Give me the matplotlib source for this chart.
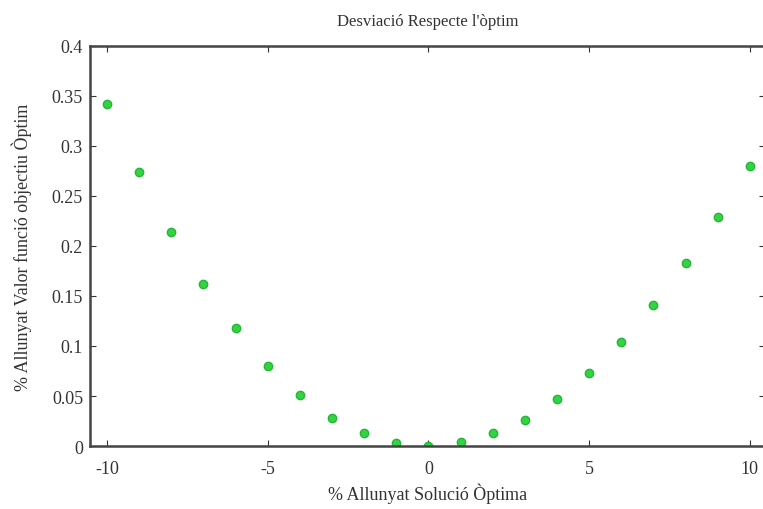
import matplotlib
matplotlib.use('Agg')
import matplotlib.pyplot as plt
from matplotlib.ticker import FormatStrFormatter

# Dades
desviacio = [-10, -9, -8, -7, -6, -5, -4, -3, -2, -1, 0, 1, 2, 3, 4, 5, 6, 7, 8, 9, 10]
valor_obj = [0.342, 0.274, 0.214, 0.162, 0.118, 0.080, 0.051, 0.028, 0.013, 0.003, 0.0,
             0.004, 0.013, 0.026, 0.047, 0.073, 0.104, 0.141, 0.183, 0.229, 0.280]
xticks = [-10, -5, 0, 5, 10]
yticks = [0, 0.05, 0.1, 0.15, 0.2, 0.25, 0.3, 0.35, 0.4]

plt.rcParams['font.family'] = ['Liberation Serif', 'DejaVu Serif']
plt.rcParams['axes.unicode_minus'] = False

fig = plt.figure(figsize=(7.63, 5.10), dpi=100)
ax = fig.add_axes([0.118, 0.1235, 0.885, 0.7845])

ax.plot(desviacio, valor_obj, linestyle='none', marker='o', markersize=6,
        color='#33d444', markeredgecolor='#25b535', markeredgewidth=1.0)

ax.set_xlim(-10.53, 10.48)
ax.set_ylim(0, 0.4)
ax.set_xticks(xticks)
ax.set_yticks(yticks)
ax.yaxis.set_major_formatter(FormatStrFormatter('%g'))
ax.tick_params(direction='in', top=True, right=True, length=4, labelsize=13,
               color='#333333', labelcolor='#333333')
ax.tick_params(axis='x', pad=10)
ax.tick_params(axis='y', pad=5)
for s in ax.spines.values():
    s.set_linewidth(1.8)
    s.set_color('#444444')

ax.set_title("Desviació Respecte l'òptim", fontsize=12, color='#333333', pad=15)
ax.set_xlabel('% Allunyat Solució Òptima', fontsize=13, color='#333333', labelpad=4)
ax.set_ylabel('% Allunyat Valor funció objectiu Òptim', fontsize=13, color='#333333', labelpad=14)

fig.savefig('out.png', dpi=100)
